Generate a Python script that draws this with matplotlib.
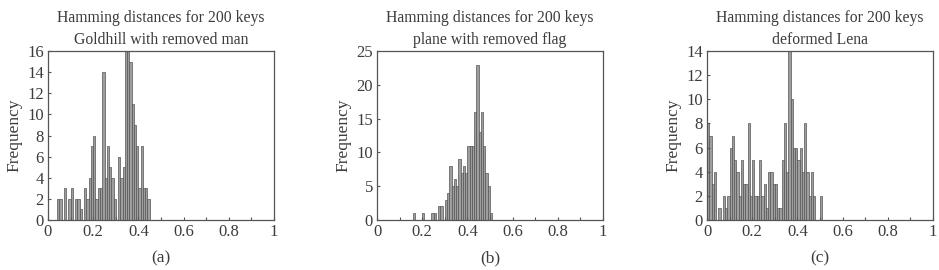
"""Three Hamming-distance histograms (200 keys each), side by side."""

import matplotlib
matplotlib.use("Agg")
import matplotlib.pyplot as plt
import matplotlib.transforms as mtransforms
import numpy as np

# bin width of the histograms and counts per bin (bin index -> count)
BIN_W = 0.01

bins_a = [4, 5, 7, 9, 10, 12, 13, 14,
          16, 17, 18, 19, 20, 21, 22, 23, 24, 25, 26, 27, 28, 29,
          31, 32, 33, 34, 35, 36, 37, 38, 39, 40, 41, 42, 43, 44]
counts_a = [2, 2, 3, 2, 3, 2, 2, 1,
            3, 2, 4, 7, 8, 2, 3, 3, 14, 4, 7, 5, 4, 2,
            6, 4, 5, 16, 16, 15, 11, 9, 7, 3, 7, 3, 3, 2]

bins_b = [16, 20, 24, 25, 27, 28, 30, 31, 32, 33, 34, 35, 36, 37, 38, 39,
          40, 41, 42, 43, 44, 45, 46, 47, 48, 49, 50]
counts_b = [1, 1, 1, 1, 2, 2, 3, 4, 8, 5, 6, 5, 9, 7, 8, 7,
            11, 11, 11, 16, 23, 13, 16, 11, 7, 5, 1]

bins_c = [0, 1, 2, 3, 5, 7, 8, 9, 10, 11, 12, 13, 14, 15, 16, 17, 18, 19,
          20, 21, 22, 23, 24, 25, 26, 27, 28, 29, 30, 31, 32, 33, 34, 35,
          36, 37, 38, 39, 40, 41, 42, 43, 44, 45, 46, 47, 50]
counts_c = [8, 7, 3, 4, 1, 2, 1, 2, 6, 7, 5, 4, 2, 5, 3, 3, 8, 2,
            5, 2, 2, 5, 2, 3, 1, 4, 4, 3, 3, 1, 1, 5, 8, 4,
            14, 10, 6, 6, 5, 6, 4, 8, 4, 2, 4, 2, 2]

titles = ["Hamming distances for 200 keys\nGoldhill with removed man",
          "Hamming distances for 200 keys\nplane with removed flag",
          "Hamming distances for 200 keys\ndeformed Lena"]
captions = ["(a)", "(b)", "(c)"]
ymax = [16, 25, 14]
ystep = [2, 5, 2]

TXT = "#3c3c3c"
plt.rcParams["font.family"] = ["Liberation Serif", "DejaVu Serif"]
plt.rcParams["font.size"] = 12

fig = plt.figure(figsize=(9.39, 2.70), dpi=100)
lefts = [48 / 939, 377 / 939, 707 / 939]
panels = [(bins_a, counts_a), (bins_b, counts_b), (bins_c, counts_c)]

for k, (bins, counts) in enumerate(panels):
    ax = fig.add_axes([lefts[k], 50 / 270, 226 / 939, 169 / 270])
    x = np.asarray(bins) * BIN_W
    ax.bar(x, counts, width=BIN_W, align="edge", color="#9e9e9e",
           edgecolor="#555555", linewidth=0.5)
    ax.set_xlim(0, 1)
    ax.set_ylim(0, ymax[k])
    ax.set_xticks(np.arange(0, 1.01, 0.2))
    ax.set_xticklabels(["0", "0.2", "0.4", "0.6", "0.8", "1"])
    ax.set_xticks(np.arange(0.1, 1.0, 0.2), minor=True)
    ax.set_yticks(np.arange(0, ymax[k] + 1, ystep[k]))
    ax.tick_params(which="both", direction="in", colors="#555555",
                   labelcolor=TXT, labelsize=12, length=2.5, width=0.8,
                   pad=3)
    for s in ax.spines.values():
        s.set_color("#555555")
        s.set_linewidth(0.9)
    ax.set_title(titles[k], color=TXT, fontsize=11.3, linespacing=1.5, pad=5)
    ax.set_ylabel("Frequency", color=TXT, fontsize=12.5, labelpad=3)
    trans = mtransforms.blended_transform_factory(ax.transAxes, fig.transFigure)
    ax.text(0.5, 12 / 270, captions[k], transform=trans,
            ha="center", va="center", color=TXT, fontsize=12.5)

fig.savefig("out.png", dpi=100)
